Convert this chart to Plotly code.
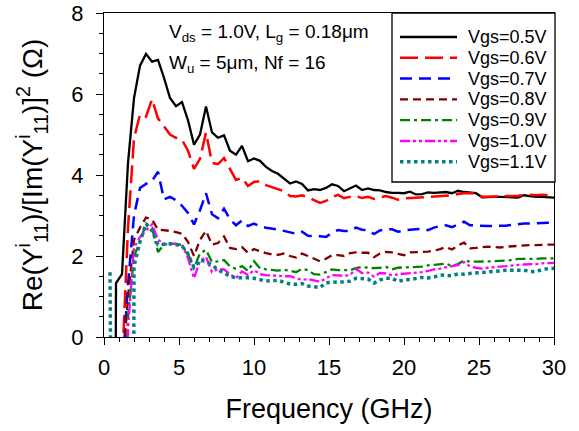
import plotly.graph_objects as go

# Frequency sweep (GHz)
freq = [0.4, 0.8, 1.2, 1.6, 2.0, 2.4, 2.8, 3.2, 3.6, 4.0,
        4.4, 4.8, 5.2, 5.6, 6.0, 6.4, 6.8, 7.2, 7.6, 8.0,
        8.4, 8.8, 9.2, 9.6, 10.0, 10.4, 10.8, 11.2, 11.6, 12.0,
        12.4, 12.8, 13.2, 13.6, 14.0, 14.4, 14.8, 15.2, 15.6, 16.0,
        16.4, 16.8, 17.2, 17.6, 18.0, 18.4, 18.8, 19.2, 19.6, 20.0,
        20.4, 20.8, 21.2, 21.6, 22.0, 22.4, 22.8, 23.2, 23.6, 24.0,
        24.4, 24.8, 25.2, 25.6, 26.0, 26.4, 26.8, 27.2, 27.6, 28.0,
        28.4, 28.8, 29.2, 29.6, 30.0]

# Re(Y11)/[Im(Y11)]^2 in ohm, one list per gate bias
vgs_05 = [-40, 1.33, 1.55, 4.3, 5.9, 6.7, 6.99, 6.8, 6.84, 6.4,
          5.9, 5.7, 5.8, 5.35, 4.75, 5.0, 5.69, 5.05, 4.92, 4.98,
          4.6, 4.5, 4.72, 4.34, 4.41, 4.35, 4.2, 4.1, 4.03, 3.92,
          3.79, 3.84, 3.78, 3.62, 3.65, 3.63, 3.68, 3.77, 3.73, 3.6,
          3.67, 3.74, 3.63, 3.67, 3.63, 3.62, 3.58, 3.56, 3.56, 3.55,
          3.59, 3.52, 3.53, 3.57, 3.56, 3.57, 3.58, 3.55, 3.61, 3.58,
          3.56, 3.55, 3.45, 3.46, 3.46, 3.46, 3.46, 3.45, 3.44, 3.5,
          3.48, 3.46, 3.46, 3.45, 3.44]
vgs_06 = [-30, -30, -0.8, 2.7, 4.9, 5.5, 5.44, 5.87, 5.4, 5.2,
          5.0, 4.92, 4.87, 4.6, 4.15, 4.4, 5.05, 4.3, 4.27, 4.42,
          4.15, 3.88, 3.93, 3.73, 3.83, 3.85, 3.75, 3.7, 3.66, 3.6,
          3.48, 3.47, 3.5, 3.45, 3.38, 3.31, 3.36, 3.45, 3.51, 3.43,
          3.46, 3.48, 3.43, 3.46, 3.41, 3.45, 3.48, 3.44, 3.39, 3.42,
          3.43, 3.44, 3.45, 3.46, 3.46, 3.47, 3.49, 3.5, 3.53, 3.55,
          3.55, 3.55, 3.46, 3.46, 3.46, 3.47, 3.48, 3.48, 3.49, 3.5,
          3.51, 3.5, 3.51, 3.5, 3.48]
vgs_07 = [-30, -30, -1.0, 1.3, 3.0, 3.68, 3.78, 3.85, 4.08, 3.4,
          3.46, 3.38, 3.24, 3.06, 2.78, 3.13, 3.55, 3.03, 2.93, 3.17,
          2.9, 2.76, 2.88, 2.74, 2.8, 2.73, 2.7, 2.68, 2.65, 2.62,
          2.58, 2.55, 2.6, 2.5, 2.49, 2.49, 2.47, 2.58, 2.64, 2.62,
          2.62, 2.7, 2.65, 2.64, 2.54, 2.63, 2.66, 2.66, 2.6, 2.63,
          2.65, 2.66, 2.67, 2.64, 2.7, 2.74, 2.76, 2.71, 2.78, 2.85,
          2.76, 2.75, 2.74, 2.74, 2.74, 2.74, 2.75, 2.77, 2.79, 2.8,
          2.8, 2.81, 2.81, 2.82, 2.82]
vgs_08 = [-30, -30, -1.0, 1.0, 2.4, 2.7, 2.95, 2.9, 2.65, 2.64,
          2.62, 2.59, 2.55, 2.35, 2.0, 2.4, 2.62, 2.28, 2.32, 2.48,
          2.2, 2.17, 2.22, 2.08, 2.17, 2.12, 2.07, 2.04, 2.03, 2.06,
          2.0, 1.96, 2.06, 2.0, 1.94, 1.87, 1.93, 2.02, 2.02, 2.0,
          2.07, 2.09, 2.08, 2.08, 1.97, 2.06, 2.1, 2.09, 2.05, 2.02,
          2.09, 2.09, 2.1, 2.11, 2.13, 2.17, 2.22, 2.16, 2.26, 2.33,
          2.19, 2.2, 2.21, 2.23, 2.22, 2.21, 2.23, 2.24, 2.26, 2.27,
          2.27, 2.27, 2.28, 2.28, 2.28]
vgs_09 = [-30, -30, -3.0, 0.5, 2.0, 2.35, 2.8, 2.7, 2.1, 2.28,
          2.31, 2.3, 2.27, 2.05, 1.7, 2.07, 2.15, 1.85, 1.87, 1.9,
          1.74, 1.68, 1.75, 1.63, 1.87, 1.7, 1.67, 1.66, 1.64, 1.66,
          1.64, 1.6, 1.68, 1.65, 1.55, 1.54, 1.6, 1.67, 1.65, 1.65,
          1.65, 1.7, 1.73, 1.71, 1.7, 1.71, 1.73, 1.67, 1.71, 1.72,
          1.72, 1.73, 1.74, 1.77, 1.78, 1.8, 1.81, 1.75, 1.8, 1.89,
          1.86, 1.86, 1.86, 1.86, 1.87, 1.88, 1.89, 1.9, 1.93, 1.93,
          1.92, 1.93, 1.94, 1.94, 1.94]
vgs_10 = [-30, -30, -30, 0.2, 2.2, 2.47, 2.62, 2.78, 2.4, 2.3,
          2.3, 2.3, 2.28, 1.95, 1.45, 1.88, 1.98, 1.6, 1.68, 1.67,
          1.55, 1.45, 1.62, 1.53, 1.65, 1.55, 1.53, 1.52, 1.5, 1.5,
          1.5, 1.45, 1.41, 1.43, 1.4, 1.36, 1.45, 1.53, 1.52, 1.51,
          1.53, 1.68, 1.58, 1.59, 1.49, 1.58, 1.57, 1.52, 1.55, 1.56,
          1.57, 1.59, 1.6, 1.63, 1.67, 1.69, 1.72, 1.74, 1.78, 1.85,
          1.74, 1.71, 1.69, 1.71, 1.73, 1.74, 1.75, 1.77, 1.78, 1.79,
          1.79, 1.8, 1.82, 1.82, 1.83]
vgs_11 = [1.6, -60, -60, -60, 1.75, 2.35, 2.8, 2.62, 2.28, 2.3,
          2.3, 2.28, 2.25, 2.05, 1.72, 1.9, 1.86, 1.78, 1.66, 1.58,
          1.5, 1.46, 1.47, 1.46, 1.45, 1.42, 1.38, 1.39, 1.4, 1.35,
          1.31, 1.3, 1.32, 1.26, 1.24, 1.22, 1.34, 1.36, 1.36, 1.36,
          1.38, 1.45, 1.45, 1.43, 1.33, 1.41, 1.45, 1.45, 1.37, 1.41,
          1.42, 1.45, 1.47, 1.46, 1.48, 1.53, 1.52, 1.51, 1.56, 1.55,
          1.57, 1.58, 1.58, 1.59, 1.61, 1.63, 1.65, 1.65, 1.65, 1.65,
          1.62, 1.61, 1.67, 1.68, 1.70]

series = [vgs_05, vgs_06, vgs_07, vgs_08, vgs_09, vgs_10, vgs_11]
labels = ["Vgs=0.5V", "Vgs=0.6V", "Vgs=0.7V", "Vgs=0.8V",
          "Vgs=0.9V", "Vgs=1.0V", "Vgs=1.1V"]
colors = ["#000000", "#FF0000", "#0000FF", "#800000",
          "#008000", "#FF00FF", "#008080"]
dashes = ["solid", "18px,7px", "12px,7px", "8px,5px",
          "10px,4px,3px,4px", "10px,3px,3px,3px,3px,3px", "3.5px,3.5px"]
widths = [2.3, 2.5, 2.5, 2.3, 2.3, 2.3, 3.5]

FONT = "Liberation Sans, Arial, sans-serif"

fig = go.Figure()
for ys, name, c, d, w in zip(series, labels, colors, dashes, widths):
    fig.add_trace(go.Scatter(x=freq, y=ys, mode="lines", name=name,
                             line=dict(color=c, dash=d, width=w),
                             showlegend=False))

# Legend panel in the upper right corner of the plot area
L, T, PW, PH = 104, 13, 450, 324


def px(xp):
    return (xp - L) / PW


def py(yp):
    return (T + PH - yp) / PH


shapes = [dict(type="rect", xref="paper", yref="paper",
               x0=px(392), x1=px(555), y0=py(182), y1=py(13),
               line=dict(color="black", width=1.3), fillcolor="white",
               layer="above")]
annotations = []
for i, (name, c, d, w) in enumerate(zip(labels, colors, dashes, widths)):
    row = 37 + 20.8 * i
    shapes.append(dict(type="line", xref="paper", yref="paper",
                       x0=px(400), x1=px(457), y0=py(row), y1=py(row),
                       line=dict(color=c, dash=d, width=w), layer="above"))
    annotations.append(dict(text=name, xref="paper", yref="paper",
                            x=px(466), y=py(row), xanchor="left",
                            yanchor="middle", showarrow=False,
                            font=dict(size=18, color="black", family=FONT)))

annotations.append(dict(text="V<sub>ds</sub> = 1.0V, L<sub>g</sub> = 0.18\u03bcm",
                        xref="paper", yref="paper", x=px(167), y=py(33),
                        xanchor="left", yanchor="middle", showarrow=False,
                        font=dict(size=19, color="black", family=FONT)))
annotations.append(dict(text="W<sub>u</sub> = 5\u03bcm, Nf = 16",
                        xref="paper", yref="paper", x=px(167), y=py(64),
                        xanchor="left", yanchor="middle", showarrow=False,
                        font=dict(size=19, color="black", family=FONT)))

axis_common = dict(showline=True, linecolor="black", linewidth=1.3,
                   mirror=True, showgrid=False, zeroline=False,
                   ticks="outside", tickcolor="black", tickwidth=1.2,
                   ticklen=7,
                   tickfont=dict(size=22, color="black", family=FONT))

fig.update_layout(
    width=579, height=431,
    margin=dict(l=L, r=579 - L - PW, t=T, b=431 - T - PH),
    paper_bgcolor="white", plot_bgcolor="white",
    font=dict(family=FONT, color="black"),
    xaxis=dict(range=[0, 30], dtick=5, tick0=0,
               minor=dict(dtick=1, ticks="outside", ticklen=4,
                          tickcolor="black", tickwidth=1.2),
               ticklabelstandoff=3,
               title=dict(text="Frequency (GHz)", standoff=20,
                          font=dict(size=27, family=FONT)),
               automargin=False, **axis_common),
    yaxis=dict(range=[0, 8], dtick=2, tick0=0,
               minor=dict(dtick=0.5, ticks="outside", ticklen=4,
                          tickcolor="black", tickwidth=1.2),
               ticklabelstandoff=8,
               title=dict(text="Re(Y<sup>i</sup><sub>11</sub>)/[Im(Y<sup>i</sup><sub>11</sub>)]<sup>2</sup> (\u03a9)",
                          standoff=20, font=dict(size=28, family=FONT)),
               automargin=False, **axis_common),
    shapes=shapes, annotations=annotations,
)

fig.write_html("out.html")
